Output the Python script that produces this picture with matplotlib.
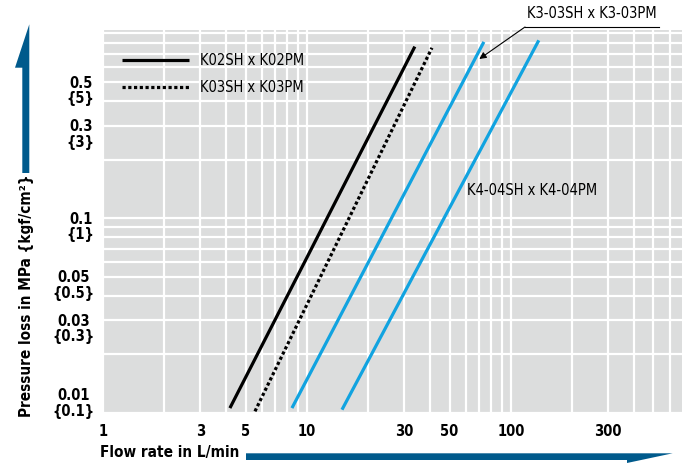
import matplotlib
matplotlib.use("Agg")
import matplotlib.pyplot as plt
import matplotlib.transforms as mtransforms
from matplotlib import font_manager
from matplotlib.patches import Polygon
from matplotlib.lines import Line2D

# pick a condensed sans font if there is one
fonts = font_manager.fontManager.ttflist
narrow_fonts = [f for f in fonts if ("Narrow" in f.name or "Condensed" in f.name
                                     or f.stretch in ("condensed", "semi-condensed", 375))
                and "Sans" in f.name and "Mono" not in f.name]
if narrow_fonts:
    family = narrow_fonts[0].name
    stretch = narrow_fonts[0].stretch
else:
    family = "Liberation Sans"
    stretch = "normal"
plt.rcParams["font.family"] = [family, "DejaVu Sans"]
plt.rcParams["font.stretch"] = stretch

# data (flow in L/min, pressure loss in MPa)
k02_flow = [4.19, 33.8]
k02_press = [0.0106, 0.764]
k03_flow = [5.56, 41.0]
k03_press = [0.0102, 0.753]
k303_flow = [8.44, 73.7]
k303_press = [0.0106, 0.808]
k404_flow = [14.85, 137.0]
k404_press = [0.0104, 0.823]

x_ticks = [1, 3, 5, 10, 30, 50, 100, 300]
y_ticks = [0.01, 0.03, 0.05, 0.1, 0.3, 0.5]
y_ticklabels = ["0.01\n{0.1}", "0.03\n{0.3}", "0.05\n{0.5}", "0.1\n{1}", "0.3\n{3}", "0.5\n{5}"]

W, H = 686, 463
fig = plt.figure(figsize=(W / 100, H / 100), dpi=100)

def fx(px):
    return px / W

def fy(py):
    return 1 - py / H

ax = fig.add_axes([fx(103), fy(413), (682 - 103) / W, (413 - 30) / H])
ax.set_facecolor("#dcdddd")
ax.set_xscale("log")
ax.set_yscale("log")
ax.set_xlim(1, 690)
ax.set_ylim(0.01, 0.93)

ax.grid(True, which="both", color="white", linewidth=1.6)
ax.set_axisbelow(True)
for s in ax.spines.values():
    s.set_visible(False)

blue = "#11a3e0"
ax.plot(k02_flow, k02_press, color="black", lw=2.3, solid_capstyle="butt", label="K02SH x K02PM")
ax.plot(k03_flow, k03_press, color="black", lw=2.3, dashes=(1, 0.8), label="K03SH x K03PM")
ax.plot(k303_flow, k303_press, color=blue, lw=2.3, solid_capstyle="butt")
ax.plot(k404_flow, k404_press, color=blue, lw=2.3, solid_capstyle="butt")

ax.set_xticks(x_ticks)
ax.set_xticklabels([str(v) for v in x_ticks])
ax.set_yticks(y_ticks)
ax.set_yticklabels(y_ticklabels)
ax.xaxis.set_minor_formatter(matplotlib.ticker.NullFormatter())
ax.yaxis.set_minor_formatter(matplotlib.ticker.NullFormatter())
ax.tick_params(which="both", length=0)
ax.tick_params(axis="x", pad=8, labelsize=10.5)
ax.tick_params(axis="y", pad=6, labelsize=10.5)
for lbl in ax.get_xticklabels():
    lbl.set_fontweight("bold")
for i, lbl in enumerate(ax.get_yticklabels()):
    lbl.set_fontweight("bold")
    lbl.set_multialignment("center")
    lbl.set_linespacing(1.05)
    dy = 8 / 72 if i == 0 else -5 / 72
    lbl.set_transform(lbl.get_transform() + mtransforms.ScaledTranslation(0, dy, fig.dpi_scale_trans))

leg = ax.legend(loc="center left", bbox_to_anchor=(0.033, 0.885), frameon=False,
                fontsize=10.5, handlelength=4.6, handletextpad=0.75, labelspacing=0.85,
                borderpad=0, borderaxespad=0)

ax.text(0.741, 0.582, "K4-04SH x K4-04PM", transform=ax.transAxes, ha="center", va="center", fontsize=10.5)

# callout for the K3-03 line
fig.text(fx(592), fy(14), "K3-03SH x K3-03PM", ha="center", va="center", fontsize=10.5)
fig.add_artist(Line2D([fx(525), fx(659)], [fy(27), fy(27)], transform=fig.transFigure, color="black", lw=0.8))
ax.annotate("", xy=(70, 0.66), xytext=(fx(525), fy(27)), textcoords="figure fraction",
            arrowprops=dict(arrowstyle="-|>", color="black", lw=0.8, mutation_scale=10, shrinkA=0, shrinkB=0))

# axis titles with arrows
dark = "#005a8c"
fig.text(fx(27), fy(296), "Pressure loss in MPa {kgf/cm²}", rotation=90, ha="center", va="center",
         fontsize=11, fontweight="bold")
fig.text(fx(100), fy(453), "Flow rate in L/min", ha="left", va="center", fontsize=11, fontweight="bold")

up = [(22.3, 173), (29.3, 173), (29.3, 24.3), (15, 67.7), (22.3, 67.7)]
fig.add_artist(Polygon([(fx(a), fy(b)) for a, b in up], closed=True, transform=fig.transFigure,
                       facecolor=dark, edgecolor="none"))
right = [(246, 453.3), (672.7, 453.3), (627, 463), (627, 460), (246, 460)]
fig.add_artist(Polygon([(fx(a), fy(b)) for a, b in right], closed=True, transform=fig.transFigure,
                       facecolor=dark, edgecolor="none"))

fig.savefig("out.png", dpi=100)
